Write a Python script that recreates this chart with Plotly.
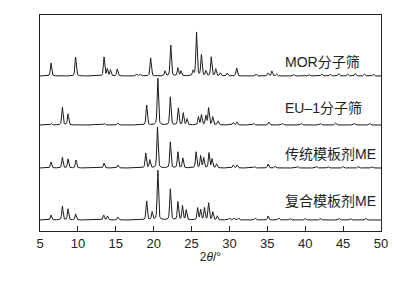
import numpy as np
import plotly.graph_objects as go

# ---- data (peak positions in 2θ degrees, relative intensities) ----
two_theta_ticks = [5, 10, 15, 20, 25, 30, 35, 40, 45, 50]

series_names = ["MOR分子筛", "EU\u20131分子筛", "传统模板剂ME", "复合模板剂ME"]

mor_pos = [6.45, 9.7, 13.45, 13.88, 14.3, 15.2, 17.75, 18.2, 19.6, 21.5, 22.25, 23.2, 23.6, 25.2, 25.65, 26.3,
           26.9, 27.6, 28.2, 28.8, 29.7, 30.95, 33.5, 35.1, 35.6, 36.2, 38.5, 40.5, 42.2, 43.3, 44.4, 45.6, 46.6, 47.8, 49.0]
mor_int = [13, 19, 19, 7, 6, 7, 2, 2, 18, 5, 31, 8, 5, 5, 44, 21,
           5, 19, 7, 3, 3, 8, 2, 3, 5, 2, 1.5, 1.5, 2, 2, 2.5, 2, 2.5, 2, 2]

eu1_pos = [6.5, 7.95, 8.7, 13.5, 15.3, 19.07, 20.55, 22.2, 23.25, 23.9, 24.4, 25.9, 26.3, 26.9, 27.25, 27.8,
           28.5, 30.5, 31.0, 33.2, 35.2, 37.0, 39.5, 42.0, 44.0, 46.5, 48.5]
eu1_int = [1.5, 18, 11, 1.5, 2, 20, 47, 28, 17, 12, 6, 8, 10, 9, 17, 8,
           4, 2.5, 3, 1.5, 3, 1.5, 1.5, 1.5, 2, 1.5, 1.5]

conv_pos = [6.45, 7.95, 8.7, 9.75, 13.45, 15.3, 18.95, 19.5, 20.5, 22.2, 23.2, 23.85, 25.6, 26.2, 26.6, 27.3,
            27.7, 28.3, 30.5, 31.0, 33.3, 35.1, 36.0, 39.0, 41.5, 43.0, 45.0, 47.0, 48.8]
conv_int = [6, 11, 9, 8, 5, 3, 15, 8, 41, 26, 16, 10, 16, 12, 10, 15,
            9, 4, 3, 3, 1.5, 4, 2, 1.5, 1.5, 1.5, 1.5, 1.5, 1.5]

comp_pos = [6.45, 7.95, 8.7, 9.7, 13.4, 13.9, 15.3, 19.07, 19.8, 20.55, 22.2, 23.2, 23.8, 24.3, 25.8, 26.2,
            26.7, 27.25, 27.8, 28.4, 30.0, 30.6, 31.2, 33.4, 35.1, 36.5, 38.0, 40.0, 42.0, 44.5, 46.0, 48.0]
comp_int = [5, 14, 11, 6, 5, 4, 3, 19, 8, 50, 31, 18, 14, 10, 12, 10,
            12, 17, 8, 4, 2, 2, 2, 2, 4, 2, 1.5, 1.5, 1.5, 1.5, 1.5, 1.5]

offsets = [155, 106, 63, 11]   # vertical stacking of the four patterns
label_y = [169, 123, 77, 30]

peaks = [(mor_pos, mor_int), (eu1_pos, eu1_int), (conv_pos, conv_int), (comp_pos, comp_int)]

x = np.arange(5, 50.0001, 0.02)


def pattern(pos, inten, w=0.1):
    y = np.zeros_like(x)
    for p, h in zip(pos, inten):
        g = np.exp(-np.log(2) * ((x - p) / w) ** 2)
        l = 1.0 / (1.0 + ((x - p) / w) ** 2)
        y += h * (0.55 * g + 0.45 * l)
    return y


fig = go.Figure()
for (pos, inten), off, name in zip(peaks, offsets, series_names):
    fig.add_trace(go.Scatter(x=x, y=pattern(pos, inten) + off, mode="lines",
                             line=dict(color="#1a1a1a", width=1), name=name,
                             hoverinfo="skip"))

for name, ly in zip(series_names, label_y):
    fig.add_annotation(x=37.05, y=ly, text=name, showarrow=False, xanchor="left", yanchor="middle",
                       font=dict(family="Liberation Sans, Noto Sans CJK SC", size=14, color="#222"))

fig.update_layout(
    width=419, height=281,
    margin=dict(l=40, r=38, t=15, b=50),
    paper_bgcolor="white", plot_bgcolor="white",
    showlegend=False,
    font=dict(family="Liberation Sans, Noto Sans CJK SC", color="#222"),
)
fig.update_xaxes(range=[5, 50], tickvals=two_theta_ticks, ticks="inside", ticklen=5, tickcolor="#222",
                 showline=True, linecolor="#222", linewidth=1, mirror=True, showgrid=False, zeroline=False,
                 tickfont=dict(size=13, family="Liberation Sans"),
                 title=dict(text="2<i>θ</i>/°", font=dict(size=12, family="Liberation Sans"), standoff=3))
fig.update_yaxes(range=[0, 216], showticklabels=False, ticks="", showline=True, linecolor="#222",
                 linewidth=1, mirror=True, showgrid=False, zeroline=False)

fig.write_html("out.html")
